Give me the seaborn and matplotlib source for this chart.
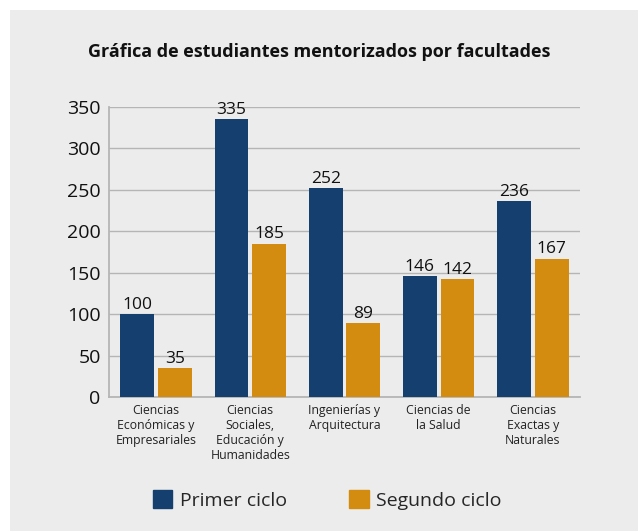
import pandas as pd
import matplotlib.pyplot as plt
import seaborn as sns
from matplotlib.patches import Rectangle
from matplotlib.ticker import FixedLocator

# Data
facultades = ['Ciencias\nEconómicas y\nEmpresariales',
              'Ciencias\nSociales,\nEducación y\nHumanidades',
              'Ingenierías y\nArquitectura',
              'Ciencias de\nla Salud',
              'Ciencias\nExactas y\nNaturales']
primer_ciclo = [100, 335, 252, 146, 236]
segundo_ciclo = [35, 185, 89, 142, 167]
ciclos = ['Primer ciclo', 'Segundo ciclo']
y_ticks = [0, 50, 100, 150, 200, 250, 300, 350]

col_azul = '#143f6e'
col_naranja = '#d48c10'
fondo = '#ececec'

df = pd.DataFrame({
    'facultad': facultades * 2,
    'estudiantes': primer_ciclo + segundo_ciclo,
    'ciclo': [ciclos[0]] * len(facultades) + [ciclos[1]] * len(facultades),
})

sns.set_style('white')
plt.rcParams['font.family'] = ['Open Sans', 'DejaVu Sans']

fig = plt.figure(figsize=(6.38, 5.31), dpi=100)
fig.patch.set_facecolor('white')
# Gray panel (white margin on top and left)
fig.patches.append(Rectangle((10 / 638, 0), 1, 1 - 10 / 531, transform=fig.transFigure,
                             facecolor=fondo, edgecolor='none', zorder=-1))

ax = fig.add_axes([109 / 638, 1 - 397 / 531, (580 - 109) / 638, (397 - 107) / 531])
ax.set_facecolor(fondo)

sns.barplot(data=df, x='facultad', y='estudiantes', hue='ciclo',
            palette=[col_azul, col_naranja], width=0.8, gap=0.1,
            saturation=1, linewidth=0, ax=ax, legend=False, zorder=3)

for cont in ax.containers:
    ax.bar_label(cont, fontsize=12.5, padding=1, color='#111111')

ax.set_ylim(0, 350)
ax.set_xlim(-0.5, 4.5)
ax.set_yticks(y_ticks)
ax.tick_params(axis='y', labelsize=14, length=0, pad=6, labelcolor='#111111')
ax.tick_params(axis='x', labelsize=8.8, length=0, pad=5, labelcolor='#222222')
ax.xaxis.set_minor_locator(FixedLocator([0.5, 1.5, 2.5, 3.5]))
ax.tick_params(axis='x', which='minor', direction='in', length=5, color='#b5b5b5')
ax.set_xlabel('')
ax.set_ylabel('')
ax.grid(axis='y', color='#b5b5b5', linewidth=1, zorder=0)
ax.set_axisbelow(True)
for s in ['top', 'right']:
    ax.spines[s].set_visible(False)
for s in ['left', 'bottom']:
    ax.spines[s].set_color('#b5b5b5')
    ax.spines[s].set_linewidth(1.3)

fig.text(0.5, 1 - 52 / 531, 'Gráfica de estudiantes mentorizados por facultades',
         ha='center', va='center', fontsize=13, fontweight='bold', color='#111111')

# Legend
handles = [Rectangle((0, 0), 1, 1, color=col_azul), Rectangle((0, 0), 1, 1, color=col_naranja)]
fig.legend(handles, ciclos, loc='center', bbox_to_anchor=(0.513, 1 - 500 / 531), ncol=2,
           frameon=False, fontsize=14, handlelength=1.0, handleheight=1.0,
           handletextpad=0.4, columnspacing=3.2)

plt.savefig('out.png', dpi=100, facecolor=fig.get_facecolor())
plt.close()
